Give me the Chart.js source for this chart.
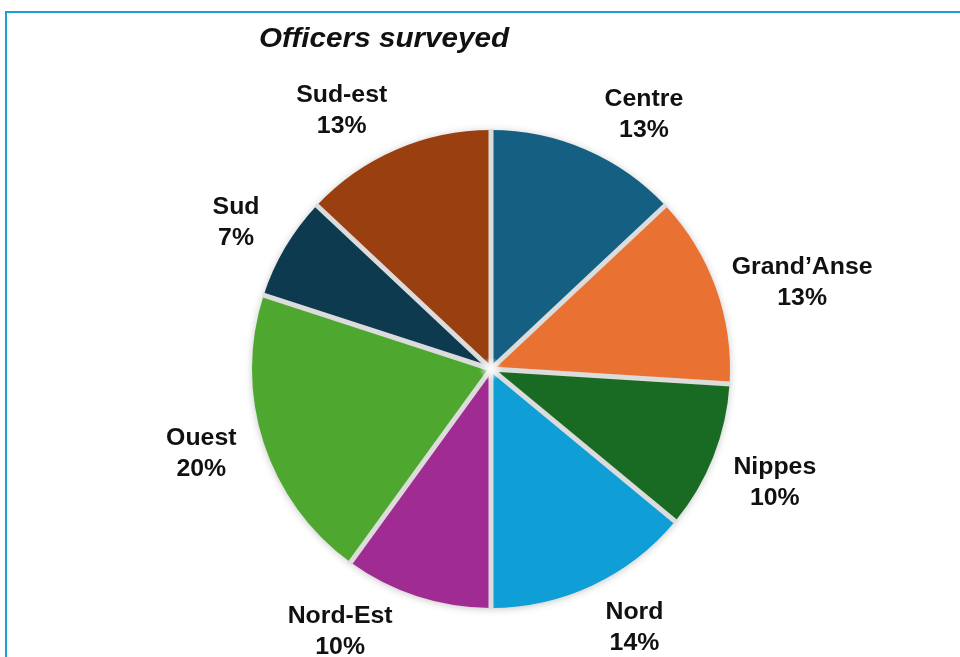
<!DOCTYPE html>
<html>
<head>
<meta charset="utf-8">
<script src="https://cdn.jsdelivr.net/npm/chart.js@4/dist/chart.umd.min.js"></script>
<style>
    html, body { margin: 0; padding: 0; background: #fff; }
    #wrap { position: relative; width: 960px; height: 657px; overflow: hidden; }
    #frame {
        position: absolute; left: 5px; top: 11px; width: 1000px; height: 700px;
        border-left: 2px solid #1c9fd6; border-top: 2px solid #1c9fd6;
    }
    canvas { position: absolute; left: 0; top: 0; }
</style>
</head>
<body>
<div id="wrap">
    <div id="frame"></div>
    <canvas id="pieChart" width="960" height="657"></canvas>
</div>
<script>
const regions = ['Centre', 'Grand\u2019Anse', 'Nippes', 'Nord', 'Nord-Est', 'Ouest', 'Sud', 'Sud-est'];
const shares = [13, 13, 10, 14, 10, 20, 7, 13];
const sliceColors = ['#156082', '#E97132', '#196B24', '#0F9ED5', '#A02B93', '#4EA72E', '#0D3A4E', '#9A4010'];
const chartTitle = 'Officers surveyed';

// how far (degrees) each label is slid round the pie, Excel best-fit style
const labelNudge = [7.5, 4, 0, -4, 12, 2, -0.5, -6.5];

// soft shadow under the whole pie
const backdrop = {
    id: 'backdrop',
    beforeDatasetsDraw(chart) {
        const arc = chart.getDatasetMeta(0).data[0];
        if (!arc) return;
        const p = arc.getProps(['x', 'y', 'outerRadius'], true);
        const ctx = chart.ctx;
        ctx.save();
        ctx.shadowColor = 'rgba(0,0,0,0.28)';
        ctx.shadowBlur = 9;
        ctx.shadowOffsetY = 1;
        ctx.fillStyle = '#d9d9d9';
        ctx.beginPath();
        ctx.arc(p.x, p.y, p.outerRadius - 1, 0, Math.PI * 2);
        ctx.fill();
        ctx.restore();
    }
};

const labels = {
    id: 'outsideLabels',
    afterDatasetsDraw(chart) {
        const ctx = chart.ctx;
        const meta = chart.getDatasetMeta(0);
        ctx.save();

        // light gray separators between slices
        ctx.strokeStyle = '#dcdcdc';
        ctx.lineWidth = 5;
        ctx.lineCap = 'butt';
        meta.data.forEach(arc => {
            const p = arc.getProps(['x', 'y', 'startAngle', 'outerRadius'], true);
            ctx.beginPath();
            ctx.moveTo(p.x, p.y);
            ctx.lineTo(p.x + Math.cos(p.startAngle) * (p.outerRadius + 1), p.y + Math.sin(p.startAngle) * (p.outerRadius + 1));
            ctx.stroke();
        });
        const c = meta.data[0].getProps(['x', 'y'], true);
        const glow = ctx.createRadialGradient(c.x, c.y, 0, c.x, c.y, 12);
        glow.addColorStop(0, 'rgba(255,255,255,1)');
        glow.addColorStop(1, 'rgba(255,255,255,0)');
        ctx.fillStyle = glow;
        ctx.beginPath();
        ctx.arc(c.x, c.y, 12, 0, Math.PI * 2);
        ctx.fill();

        ctx.fillStyle = '#111';
        ctx.font = 'bold 23px "Liberation Sans", Arial, sans-serif';
        ctx.textAlign = 'center';
        ctx.textBaseline = 'alphabetic';
        meta.data.forEach((arc, i) => {
            const p = arc.getProps(['x', 'y', 'startAngle', 'endAngle', 'outerRadius'], true);
            const mid = (p.startAngle + p.endAngle) / 2 + labelNudge[i] * Math.PI / 180;
            const halfW = Math.max(ctx.measureText(regions[i]).width, ctx.measureText(shares[i] + '%').width) / 2;
            const r = p.outerRadius + 38 + Math.abs(Math.cos(mid)) * halfW * 0.7 + Math.abs(Math.sin(mid)) * 9;
            const lx = p.x + Math.cos(mid) * r;
            const ly = p.y + Math.sin(mid) * r;
            ctx.save();
            ctx.translate(lx, ly);
            ctx.scale(1.08, 1);
            ctx.fillText(regions[i], 0, -7);
            ctx.fillText(shares[i] + '%', 0, 24);
            ctx.restore();
        });

        // title
        ctx.textAlign = 'left';
        ctx.font = 'italic bold 28px "Liberation Sans", Arial, sans-serif';
        ctx.save();
        ctx.translate(259, 47);
        ctx.scale(1.06, 1);
        ctx.fillText(chartTitle, 0, 0);
        ctx.restore();
        ctx.restore();
    }
};

const ctx = document.getElementById('pieChart').getContext('2d');
const pieChart = new Chart(ctx, {
    type: 'pie',
    data: {
        labels: regions,
        datasets: [{
            data: shares,
            backgroundColor: sliceColors,
            borderWidth: 0
        }]
    },
    options: {
        responsive: false,
        animation: false,
        layout: { padding: { left: 252, right: 230, top: 130, bottom: 49 } },
        plugins: {
            legend: { display: false },
            tooltip: { enabled: false },
            title: { display: false }
        }
    },
    plugins: [backdrop, labels]
});
</script>
</body>
</html>
